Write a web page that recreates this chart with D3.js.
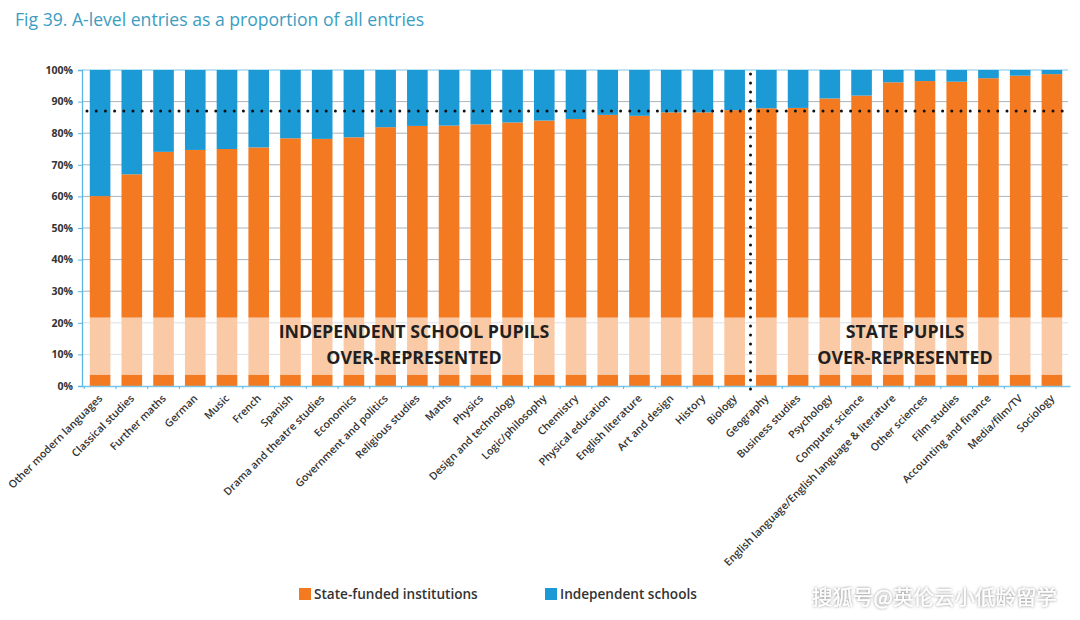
<!DOCTYPE html>
<html><head><meta charset="utf-8">
<script src="https://cdn.jsdelivr.net/npm/d3@7"></script>
<style>
body{margin:0;background:#fff;}
svg{display:block;font-family:"Open Sans","Noto Sans",sans-serif;}
</style></head>
<body><svg id="c" width="1080" height="620"></svg>
<script>
const categories = ["Other modern languages","Classical studies","Further maths","German","Music","French","Spanish","Drama and theatre studies","Economics","Government and politics","Religious studies","Maths","Physics","Design and technology","Logic/philosophy","Chemistry","Physical education","English literature","Art and design","History","Biology","Geography","Business studies","Psychology","Computer science","English language/English language & literature","Other sciences","Film studies","Accounting and finance","Media/film/TV","Sociology"];
const stateFunded = [60.1,67,74.1,74.7,75,75.5,78.4,78.2,78.7,81.9,82.3,82.4,82.8,83.4,84,84.5,85.8,85.5,86.6,86.6,87.3,87.9,88,91,91.9,96.1,96.5,96.3,97.4,98.2,98.7];
const independent = stateFunded.map(v => 100 - v);
const yTicks = [0,10,20,30,40,50,60,70,80,90,100];
const averageState = 87;
const splitAfter = "Biology";
const bandRange = [3.5, 21.7];
const title = "Fig 39. A-level entries as a proportion of all entries";
const legendLabels = ["State-funded institutions","Independent schools"];
const leftNote = ["INDEPENDENT SCHOOL PUPILS","OVER-REPRESENTED"];
const rightNote = ["STATE PUPILS","OVER-REPRESENTED"];
const watermark = "搜狐号@英伦云小低龄留学";

const ORANGE = "#f37a21", BLUE = "#1b9ad6";
const FONT = "Open Sans, Noto Sans, sans-serif";
const svg = d3.select("#c");
const x = d3.scaleBand().domain(categories).range([82,1070]).paddingInner(0.35).paddingOuter(0.245);
const y = d3.scaleLinear().domain([0,100]).range([386,70]);

svg.append("text").attr("x",15).attr("y",26).attr("fill","#3b9dc2")
  .attr("font-size",17.6).attr("font-family",FONT).text(title);

// gridlines
svg.append("g").selectAll("line").data(yTicks.filter(d=>d>0)).join("line")
  .attr("x1",82).attr("x2",1068).attr("y1",d=>y(d)).attr("y2",d=>y(d))
  .attr("stroke",d=>d===100?"#7cc6e8":"#a9b4bb").attr("stroke-width",1);

// bars
const g = svg.append("g");
g.selectAll("rect.s").data(categories).join("rect").attr("class","s")
  .attr("x",d=>x(d)).attr("width",x.bandwidth())
  .attr("y",(d,i)=>y(stateFunded[i])).attr("height",(d,i)=>y(0)-y(stateFunded[i])).attr("fill",ORANGE);
g.selectAll("rect.i").data(categories).join("rect").attr("class","i")
  .attr("x",d=>x(d)).attr("width",x.bandwidth())
  .attr("y",(d,i)=>y(100)).attr("height",(d,i)=>y(100-independent[i])-y(100)).attr("fill",BLUE);

// light band overlay
svg.append("rect").attr("x",83).attr("width",985).attr("y",y(bandRange[1])).attr("height",y(bandRange[0])-y(bandRange[1]))
  .attr("fill","#fff").attr("opacity",0.6);

// y axis
const yAxis = svg.append("g").attr("transform","translate(82,0)")
  .call(d3.axisLeft(y).tickValues(yTicks).tickFormat(d=>d+"%").tickSize(4).tickPadding(5));
yAxis.attr("font-family",FONT);
yAxis.select(".domain").attr("stroke","#5bb7e2").attr("stroke-width",1.3);
yAxis.selectAll(".tick line").attr("stroke","#5bb7e2");
yAxis.selectAll("text").attr("font-size",10.5).attr("font-weight",700).attr("fill","#333").attr("font-family",FONT);

// x axis
const xAxis = svg.append("g").attr("transform","translate(0,386)")
  .call(d3.axisBottom(x).tickSize(0).tickPadding(0));
xAxis.attr("font-family",FONT);
xAxis.select(".domain").attr("stroke","#7cc6e8").attr("stroke-width",1.3);
xAxis.selectAll(".tick text").attr("font-size",10.6).attr("font-weight",600).attr("fill","#333")
  .attr("font-family",FONT)
  .attr("text-anchor","end").attr("x",0).attr("y",0).attr("dy",0)
  .attr("transform","translate(3,13) rotate(-45)");
// small separator ticks
svg.append("g").selectAll("line").data(categories).join("line")
  .attr("x1",d=>x(d)-x.step()*x.paddingInner()/2).attr("x2",d=>x(d)-x.step()*x.paddingInner()/2)
  .attr("y1",386).attr("y2",389).attr("stroke","#5bb7e2");

// dotted average line
svg.append("line").attr("x1",87).attr("x2",1064).attr("y1",y(averageState)).attr("y2",y(averageState))
  .attr("stroke","#111").attr("stroke-width",3).attr("stroke-linecap","round").attr("stroke-dasharray","0 9.2");
const splitX = x(splitAfter) + x.bandwidth() + x.step()*x.paddingInner()/2;
svg.append("line").attr("x1",splitX).attr("x2",splitX).attr("y1",y(100)+4).attr("y2",396)
  .attr("stroke","#111").attr("stroke-width",3).attr("stroke-linecap","round").attr("stroke-dasharray","0 9");

// notes
function note(lines, cx){
  const t = svg.append("text").attr("text-anchor","middle").attr("font-size",17.8).attr("font-weight",700)
    .attr("fill","#231f20").attr("font-family",FONT);
  lines.forEach((l,i)=>t.append("tspan").attr("x",cx).attr("y",338+i*26).text(l));
}
note(leftNote, 414);
note(rightNote, 905);

// legend
const leg = [[legendLabels[0],ORANGE,299],[legendLabels[1],BLUE,545]];
leg.forEach(([t,c,lx])=>{
  svg.append("rect").attr("x",lx).attr("y",588).attr("width",12).attr("height",12).attr("fill",c);
  svg.append("text").attr("x",lx+15).attr("y",599).attr("font-size",13.6).attr("font-weight",600)
    .attr("fill","#333").attr("font-family",FONT).text(t);
});

// watermark
const defs = svg.append("defs");
const f = defs.append("filter").attr("id","sh").attr("x","-10%").attr("y","-30%").attr("width","120%").attr("height","160%");
f.append("feDropShadow").attr("dx",0).attr("dy",0).attr("stdDeviation",1.5).attr("flood-color","#000").attr("flood-opacity",0.55);
svg.append("text").attr("x",1057).attr("y",605).attr("text-anchor","end").attr("font-size",20.5)
  .attr("font-family","Noto Sans CJK SC, sans-serif").attr("fill","#fff").attr("filter","url(#sh)").text(watermark);
</script></body></html>
